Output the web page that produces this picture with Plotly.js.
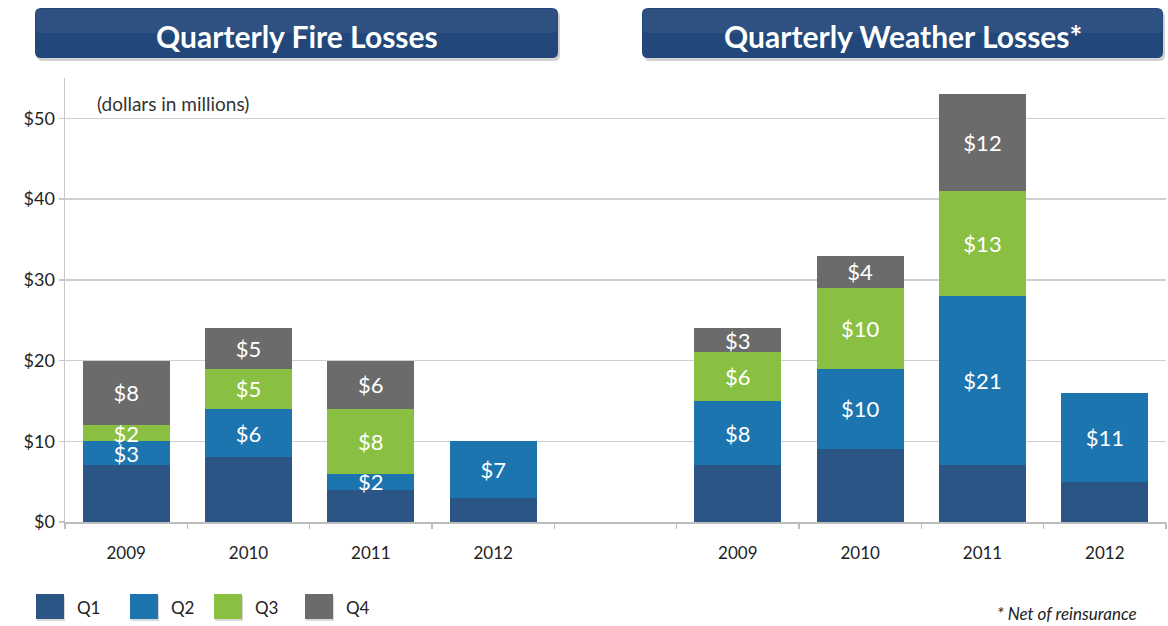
<!DOCTYPE html>
<html>
<head>
<meta charset="utf-8">
<script src="https://cdn.plot.ly/plotly-3.0.1.min.js"></script>
<style>
  html, body { margin: 0; padding: 0; background: #ffffff; }
  #chart { width: 1168px; height: 626px; }
</style>
</head>
<body>
<div id="chart"></div>
<script>
// ---- Data (dollars in millions) ----
const years = ['2009', '2010', '2011', '2012'];
const quarters = ['Q1', 'Q2', 'Q3', 'Q4'];
const fireQ1 = [7, 8, 4, 3];
const fireQ2 = [3, 6, 2, 7];
const fireQ3 = [2, 5, 8, null];
const fireQ4 = [8, 5, 6, null];
const weatherQ1 = [7, 9, 7, 5];
const weatherQ2 = [8, 10, 21, 11];
const weatherQ3 = [6, 10, 13, null];
const weatherQ4 = [3, 4, 12, null];
const panelTitles = ['Quarterly Fire Losses', 'Quarterly Weather Losses*'];
const yTicks = [0, 10, 20, 30, 40, 50];

// ---- Styles ----
const colors = ['#2B5585', '#1D75B0', '#8AC042', '#6B6B6B'];
const FONT = 'Lato, "Open Sans", "Liberation Sans", sans-serif';

// category positions: fire group, one empty slot, weather group
const nCat = years.length * 2 + 1;
const xFire = years.map((_, i) => i);
const xWeather = years.map((_, i) => i + years.length + 1);
const xAll = xFire.concat(xWeather);
const tickText = years.concat(years);
const boundaries = Array.from({length: nCat + 1}, (_, i) => i - 0.5);

const fireSeries = [fireQ1, fireQ2, fireQ3, fireQ4];
const weatherSeries = [weatherQ1, weatherQ2, weatherQ3, weatherQ4];

const traces = quarters.map((q, qi) => {
  const vals = fireSeries[qi].concat(weatherSeries[qi]);
  return {
    type: 'bar',
    name: q,
    x: xAll,
    y: vals,
    text: vals.map(v => (qi === 0 || v == null) ? '' : '$' + v),
    marker: {color: colors[qi]},
    width: 0.71,
    texttemplate: '%{text}',
    textposition: qi === 0 ? 'none' : 'inside',
    insidetextanchor: 'middle',
    textangle: 0,
    constraintext: 'none',
    cliponaxis: false,
    textfont: {family: FONT, size: 22, color: '#ffffff'},
    showlegend: false,
    hovertemplate: q + ': %{text}<extra></extra>'
  };
});

// ---- pixel helpers for decoration (plot area 65..1166 x 78..522) ----
const L = 65, R = 2, T = 78, B = 104, W = 1168, H = 626;
const pw = W - L - R, ph = H - T - B;
const fx = px => (px - L) / pw;
const fy = py => (H - B - py) / ph;

function roundedRect(x0, y0, x1, y1, r) {
  const p = (x, y) => fx(x) + ',' + fy(y);
  return 'M' + p(x0 + r, y0) +
    ' L' + p(x1 - r, y0) + ' Q' + p(x1, y0) + ' ' + p(x1, y0 + r) +
    ' L' + p(x1, y1 - r) + ' Q' + p(x1, y1) + ' ' + p(x1 - r, y1) +
    ' L' + p(x0 + r, y1) + ' Q' + p(x0, y1) + ' ' + p(x0, y1 - r) +
    ' L' + p(x0, y0 + r) + ' Q' + p(x0, y0) + ' ' + p(x0 + r, y0) + ' Z';
}

const banners = [[35, 8, 558, 58], [642, 8, 1163, 58]];
const shapes = [];
const annotations = [];

banners.forEach((b, i) => {
  shapes.push({type: 'path', xref: 'paper', yref: 'paper',
    path: roundedRect(b[0] + 2, b[1] + 3, b[2] + 2, b[3] + 3, 6),
    fillcolor: 'rgba(0,0,0,0.18)', line: {width: 0}});
  shapes.push({type: 'path', xref: 'paper', yref: 'paper',
    path: roundedRect(b[0], b[1], b[2], b[3], 6),
    fillcolor: '#22477A', line: {width: 0}});
  shapes.push({type: 'path', xref: 'paper', yref: 'paper',
    path: roundedRect(b[0] + 1, b[1] + 1, b[2] - 1, (b[1] + b[3]) / 2, 5),
    fillcolor: 'rgba(255,255,255,0.06)', line: {width: 0}});
  annotations.push({xref: 'paper', yref: 'paper',
    x: fx((b[0] + b[2]) / 2), y: fy(36),
    xanchor: 'center', yanchor: 'middle', showarrow: false,
    text: '<b>' + panelTitles[i] + '</b>',
    font: {family: FONT, size: 30, color: '#ffffff'}});
});

// legend swatches
const legendBoxes = [36, 130, 214, 305];
quarters.forEach((q, qi) => {
  const x0 = legendBoxes[qi];
  shapes.push({type: 'rect', xref: 'paper', yref: 'paper',
    x0: fx(x0 + 1), x1: fx(x0 + 29), y0: fy(596), y1: fy(621),
    fillcolor: 'rgba(0,0,0,0.15)', line: {width: 0}});
  shapes.push({type: 'rect', xref: 'paper', yref: 'paper',
    x0: fx(x0), x1: fx(x0 + 28), y0: fy(594), y1: fy(619),
    fillcolor: colors[qi], line: {width: 0}});
  annotations.push({xref: 'paper', yref: 'paper',
    x: fx(x0 + 39), y: fy(607), xanchor: 'left', yanchor: 'middle',
    showarrow: false, text: q,
    font: {family: FONT, size: 17, color: '#222222'}});
});

annotations.push({xref: 'paper', yref: 'paper', x: fx(95), y: fy(104),
  xanchor: 'left', yanchor: 'middle', showarrow: false,
  text: '(dollars in millions)',
  font: {family: FONT, size: 19, color: '#333333'}});

annotations.push({xref: 'paper', yref: 'paper', x: fx(1139), y: fy(613),
  xanchor: 'right', yanchor: 'middle', showarrow: false,
  text: '<i>* Net of reinsurance</i>',
  font: {family: FONT, size: 17, color: '#222222'}});

const layout = {
  width: W, height: H,
  margin: {l: L, r: R, t: T, b: B, pad: 0},
  paper_bgcolor: '#ffffff',
  plot_bgcolor: '#ffffff',
  barmode: 'stack',
  showlegend: false,
  font: {family: FONT, color: '#222222'},
  xaxis: {
    range: [-0.5, nCat - 0.5], fixedrange: true,
    tickvals: xAll, ticktext: tickText,
    ticks: 'outside', ticklen: 15, tickcolor: 'rgba(0,0,0,0)',
    tickfont: {family: FONT, size: 17, color: '#222222'},
    showgrid: false, zeroline: false,
    showline: true, linecolor: '#bdbdbd', linewidth: 1.5
  },
  xaxis2: {
    overlaying: 'x', anchor: 'y', side: 'bottom',
    range: [-0.5, nCat - 0.5], fixedrange: true,
    tickvals: boundaries, showticklabels: false,
    ticks: 'outside', ticklen: 6, tickcolor: '#bdbdbd', tickwidth: 1.5,
    showgrid: false, zeroline: false, showline: false
  },
  yaxis: {
    range: [0, 55], fixedrange: true,
    tickvals: yTicks, ticktext: yTicks.map(v => '$' + v),
    ticks: 'outside', ticklen: 5, tickcolor: '#c8c8c8', tickwidth: 1.5,
    tickfont: {family: FONT, size: 18, color: '#222222'},
    showgrid: true, gridcolor: '#cfcfcf', gridwidth: 1.5,
    zeroline: false, showline: true, linecolor: '#c8c8c8', linewidth: 1.5
  },
  shapes: shapes,
  annotations: annotations
};

// empty trace bound to xaxis2 so the category-boundary tick axis is drawn
traces.push({type: 'scatter', x: [], y: [], xaxis: 'x2', yaxis: 'y',
  showlegend: false, hoverinfo: 'skip'});

Plotly.newPlot('chart', traces, layout, {displayModeBar: false, staticPlot: true});
</script>
</body>
</html>
